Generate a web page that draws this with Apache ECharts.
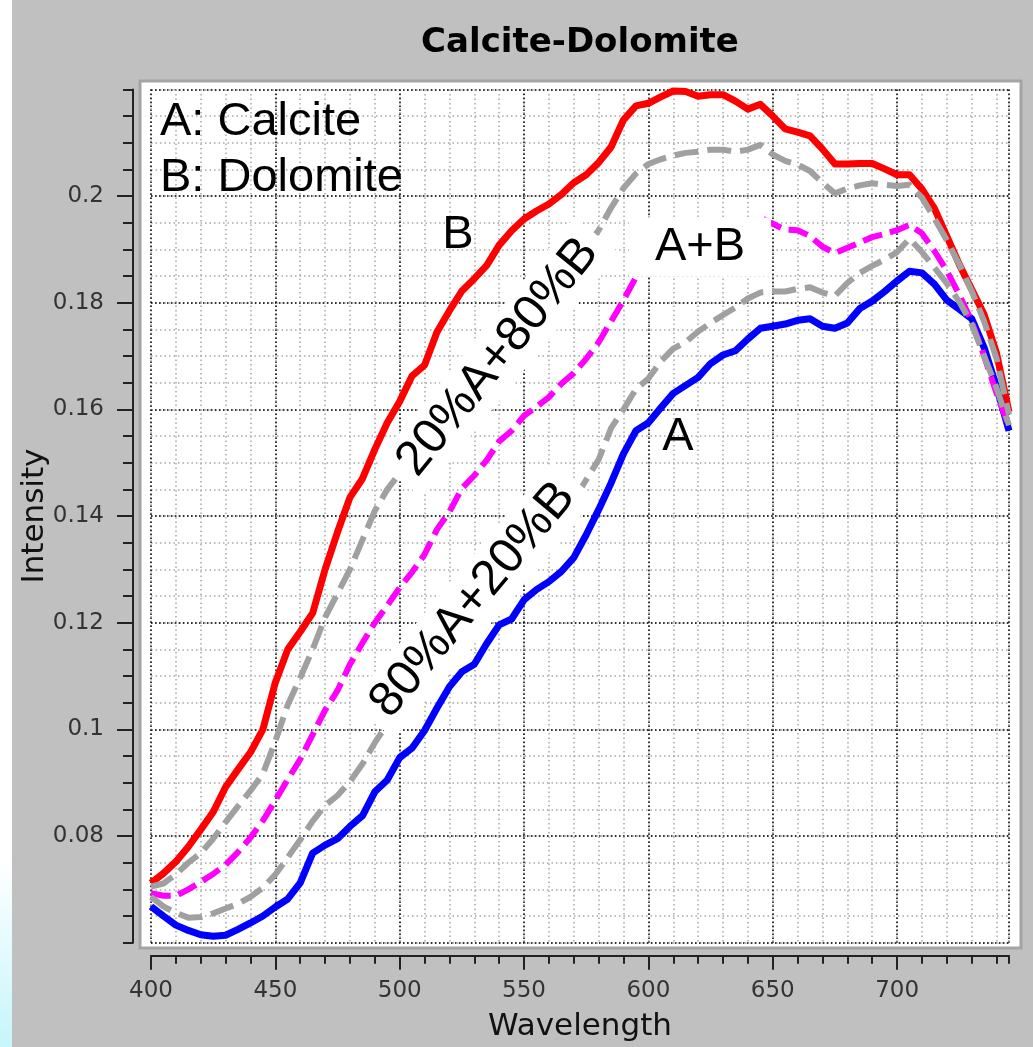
<!DOCTYPE html>
<html>
<head>
<meta charset="utf-8">
<title>Calcite-Dolomite</title>
<script src="https://cdn.jsdelivr.net/npm/echarts@6/dist/echarts.min.js"></script>
<style>
html, body { margin: 0; padding: 0; background: #c0c0c0; }
#main { width: 1033px; height: 1047px; }
</style>
</head>
<body>
<div id="main"></div>
<script>
// wavelength samples (nm)
var wavelength = [400, 405, 410, 415, 420, 425, 430, 435, 440, 445,
    450, 455, 460, 465, 470, 475, 480, 485, 490, 495,
    500, 505, 510, 515, 520, 525, 530, 535, 540, 545,
    550, 555, 560, 565, 570, 575, 580, 585, 590, 595,
    600, 605, 610, 615, 620, 625, 630, 635, 640, 645,
    650, 655, 660, 665, 670, 675, 680, 685, 690, 695,
    700, 705, 710, 715, 720, 725, 730, 735, 740, 745];

// B: Dolomite (red)
var dolomite = [.0712, .0730, .0752, .0780, .0812, .0845, .0892, .0925, .0957, .1000,
    .1088, .1150, .1183, .1218, .1300, .1370, .1435, .1470, .1525, .1575,
    .1615, .1663, .1683, .1745, .1785, .1822, .1845, .1870, .1908, .1935,
    .1957, .1972, .1985, .2003, .2025, .2040, .2063, .2092, .2143, .2169,
    .2174, .2186, .2197, .2196, .2187, .2190, .2190, .2178, .2163, .2172,
    .2150, .2126, .2120, .2113, .2088, .2060, .2060, .2061, .2061, .2051,
    .2040, .2040, .2013, .1977, .1925, .1872, .1825, .1778, .1705, .1595];

// A: Calcite (blue)
var calcite = [.0668, .0650, .0633, .0623, .0615, .0612, .0614, .0625, .0637, .0650,
    .0667, .0682, .0712, .0768, .0783, .0795, .0818, .0838, .0883, .0905,
    .0947, .0965, .0998, .1040, .1080, .1108, .1122, .1161, .1196, .1207,
    .1243, .1262, .1277, .1296, .1322, .1365, .1412, .1462, .1517, .1560,
    .1575, .1603, .1630, .1645, .1660, .1686, .1702, .1710, .1732, .1752,
    .1756, .1760, .1767, .1770, .1756, .1752, .1762, .1789, .1803, .1821,
    .1841, .1859, .1856, .1835, .1805, .1788, .1770, .1716, .1642, .1560];

// A+B (magenta dashed)
var mix50 = [.0693, .0688, .0688, .0700, .0714, .0729, .0746, .0770, .0797, .0829,
    .0867, .0906, .0944, .0990, .1036, .1073, .1122, .1162, .1200, .1232,
    .1266, .1295, .1328, .1375, .1408, .1452, .1476, .1505, .1540, .1560,
    .1588, .1605, .1623, .1648, .1668, .1695, .1726, .1765, .1805, .1848,
    .1868, .1890, .1910, .1918, .1922, .1935, .1942, .1942, .1945, .1960,
    .1948, .1937, .1936, .1925, .1905, .1893, .1903, .1913, .1923, .1929,
    .1936, .1946, .1930, .1897, .1860, .1815, .1765, .1700, .1630, .1568];

// 80%A+20%B (grey dashed, lower)
var mix80A = [.0686, .0668, .0656, .0647, .0648, .0655, .0664, .0673, .0686, .0703,
    .0728, .0760, .0793, .0828, .0857, .0876, .0902, .0935, .0975, .1010,
    .1045, .1075, .1105, .1145, .1180, .1210, .1230, .1265, .1300, .1315,
    .1345, .1365, .1385, .1405, .1430, .1468, .1506, .1565, .1600, .1638,
    .1658, .1690, .1714, .1726, .1746, .1762, .1777, .1791, .1808, .1819,
    .1821, .1821, .1826, .1829, .1819, .1813, .1837, .1856, .1869, .1881,
    .1895, .1920, .1895, .1866, .1836, .1802, .1760, .1700, .1640, .1570];

// 20%A+80%B (grey dashed, upper)
var mix20A = [.0705, .0711, .0728, .0750, .0768, .0795, .0826, .0856, .0885, .0917,
    .0978, .1046, .1097, .1150, .1210, .1255, .1300, .1355, .1410, .1450,
    .1480, .1523, .1546, .1604, .1644, .1679, .1700, .1728, .1766, .1789,
    .1814, .1830, .1843, .1862, .1884, .1905, .1936, .1978, .2015, .2042,
    .2060, .2069, .2076, .2081, .2083, .2087, .2087, .2083, .2087, .2096,
    .2078, .2066, .2059, .2047, .2025, .2005, .2014, .2020, .2024, .2021,
    .2019, .2021, .1997, .1958, .1917, .1872, .1822, .1765, .1695, .1590];

var xRange = [400, 745];
var yRange = [0.06, 0.22];

var axisFont = 'Tahoma, "DejaVu Sans", sans-serif';
var noteFont = '"Liberation Sans", Arial, sans-serif';
var axisColor = '#222';

function pairs(ys) {
    var res = [];
    for (var i = 0; i < wavelength.length; i++) {
        res.push([wavelength[i], ys[i]]);
    }
    return res;
}

function lineSeries(name, ys, color, width, dash) {
    return {
        name: name,
        type: 'line',
        xAxisIndex: 1,
        yAxisIndex: 1,
        data: pairs(ys),
        showSymbol: false,
        symbol: 'none',
        animation: false,
        lineStyle: { color: color, width: width, type: dash || 'solid', cap: 'butt', join: 'round' }
    };
}

// minor (10 nm / 0.005) axis and major (50 nm / 0.02) axis share the grid
function minorGrid() {
    return { show: true, lineStyle: { color: '#a8a8a8', width: 1.5, type: [1.5, 3] } };
}
function majorGrid() {
    return { show: true, lineStyle: { color: '#000', width: 1.5, type: [1.5, 2.5] } };
}

var chart = echarts.init(document.getElementById('main'));

var option = {
    backgroundColor: '#c0c0c0',
    animation: false,
    title: {
        text: 'Calcite-Dolomite',
        left: 580,
        top: 26,
        textAlign: 'center',
        padding: 0,
        textStyle: { fontFamily: axisFont, fontWeight: 'bold', fontSize: 34, color: '#000' }
    },
    grid: { left: 151, right: 24, top: 89.4, bottom: 104.3, outerBoundsMode: 'none' },
    xAxis: [
        {
            type: 'value', position: 'bottom', offset: 13,
            min: xRange[0], max: xRange[1], interval: 10,
            axisLine: { show: true, lineStyle: { color: axisColor, width: 2 } },
            axisTick: { show: true, length: 8, lineStyle: { color: axisColor, width: 2 } },
            axisLabel: { show: false },
            splitLine: minorGrid()
        },
        {
            type: 'value', position: 'bottom', offset: 13,
            min: xRange[0], max: xRange[1], interval: 50,
            name: 'Wavelength', nameLocation: 'middle', nameGap: 56,
            nameTextStyle: { fontFamily: axisFont, fontSize: 31, color: '#111' },
            axisLine: { show: false },
            axisTick: { show: true, length: 14, lineStyle: { color: axisColor, width: 2 } },
            axisLabel: { margin: 24, showMaxLabel: false, fontFamily: axisFont, fontSize: 23, color: '#333' },
            splitLine: majorGrid()
        }
    ],
    yAxis: [
        {
            type: 'value', position: 'left', offset: 18,
            min: yRange[0], max: yRange[1], interval: 0.005,
            axisLine: { show: true, lineStyle: { color: axisColor, width: 2 } },
            axisTick: { show: true, length: 10, lineStyle: { color: axisColor, width: 2 } },
            axisLabel: { show: false },
            splitLine: minorGrid()
        },
        {
            type: 'value', position: 'left', offset: 18,
            min: yRange[0], max: yRange[1], interval: 0.02,
            name: 'Intensity', nameLocation: 'middle', nameGap: 83, nameRotate: 90,
            nameMoveOverlap: false,
            nameTextStyle: { fontFamily: axisFont, fontSize: 31, color: '#111' },
            axisLine: { show: false },
            axisTick: { show: true, length: 16, lineStyle: { color: axisColor, width: 2 } },
            axisLabel: {
                margin: 29, showMinLabel: false, showMaxLabel: false,
                fontFamily: axisFont, fontSize: 23, color: '#333',
                formatter: function (v) { return String(+v.toFixed(3)); }
            },
            splitLine: majorGrid()
        }
    ],
    series: [
        lineSeries('B: Dolomite', dolomite, '#ff0000', 7),
        lineSeries('A: Calcite', calcite, '#0000ff', 7),
        lineSeries('A+B', mix50, '#ff00ff', 6, [20, 8]),
        lineSeries('80%A+20%B', mix80A, '#a0a0a0', 6, [24, 9]),
        lineSeries('20%A+80%B', mix20A, '#a0a0a0', 6, [24, 9])
    ],
    graphic: [
        // white strip on the left edge of the screenshot
        {
            type: 'rect', silent: true, z: -20,
            shape: { x: 0, y: 0, width: 12, height: 1047 },
            style: {
                fill: new echarts.graphic.LinearGradient(0, 0, 0, 1, [
                    { offset: 0, color: '#ffffff' },
                    { offset: 0.82, color: '#ffffff' },
                    { offset: 1, color: '#c6f6fb' }
                ])
            }
        },
        // plot background
        {
            type: 'rect', silent: true, z: -10,
            shape: { x: 140, y: 81, width: 881, height: 867 },
            style: { fill: '#ffffff', stroke: '#a4a4a4', lineWidth: 3 }
        },
        {
            type: 'text', x: 160, y: 122, z: 100, silent: true,
            style: { text: 'A: Calcite', font: '47px ' + noteFont, fill: '#000', verticalAlign: 'middle' }
        },
        {
            type: 'text', x: 160, y: 178, z: 100, silent: true,
            style: { text: 'B: Dolomite', font: '47px ' + noteFont, fill: '#000', verticalAlign: 'middle' }
        },
        {
            type: 'text', x: 458, y: 235, z: 100, silent: true,
            style: { text: 'B', font: '47px ' + noteFont, fill: '#000', align: 'center', verticalAlign: 'middle' }
        },
        {
            type: 'text', x: 700, y: 247, z: 100, silent: true,
            style: {
                text: 'A+B', font: '47px ' + noteFont, fill: '#000', align: 'center', verticalAlign: 'middle',
                backgroundColor: '#fff', padding: [6, 26, 6, 26]
            }
        },
        {
            type: 'text', x: 678, y: 437, z: 100, silent: true,
            style: { text: 'A', font: '47px ' + noteFont, fill: '#000', align: 'center', verticalAlign: 'middle' }
        },
        {
            type: 'text', x: 498, y: 357, z: 100, silent: true, rotation: 51 * Math.PI / 180,
            style: {
                text: '20%A+80%B', font: '49px ' + noteFont, fill: '#000', align: 'center', verticalAlign: 'middle',
                backgroundColor: '#fff', padding: [4, 12, 4, 12]
            }
        },
        {
            type: 'text', x: 473, y: 600, z: 100, silent: true, rotation: 50 * Math.PI / 180,
            style: {
                text: '80%A+20%B', font: '49px ' + noteFont, fill: '#000', align: 'center', verticalAlign: 'middle',
                backgroundColor: '#fff', padding: [4, 12, 4, 12]
            }
        }
    ]
};

chart.setOption(option);
</script>
</body>
</html>
